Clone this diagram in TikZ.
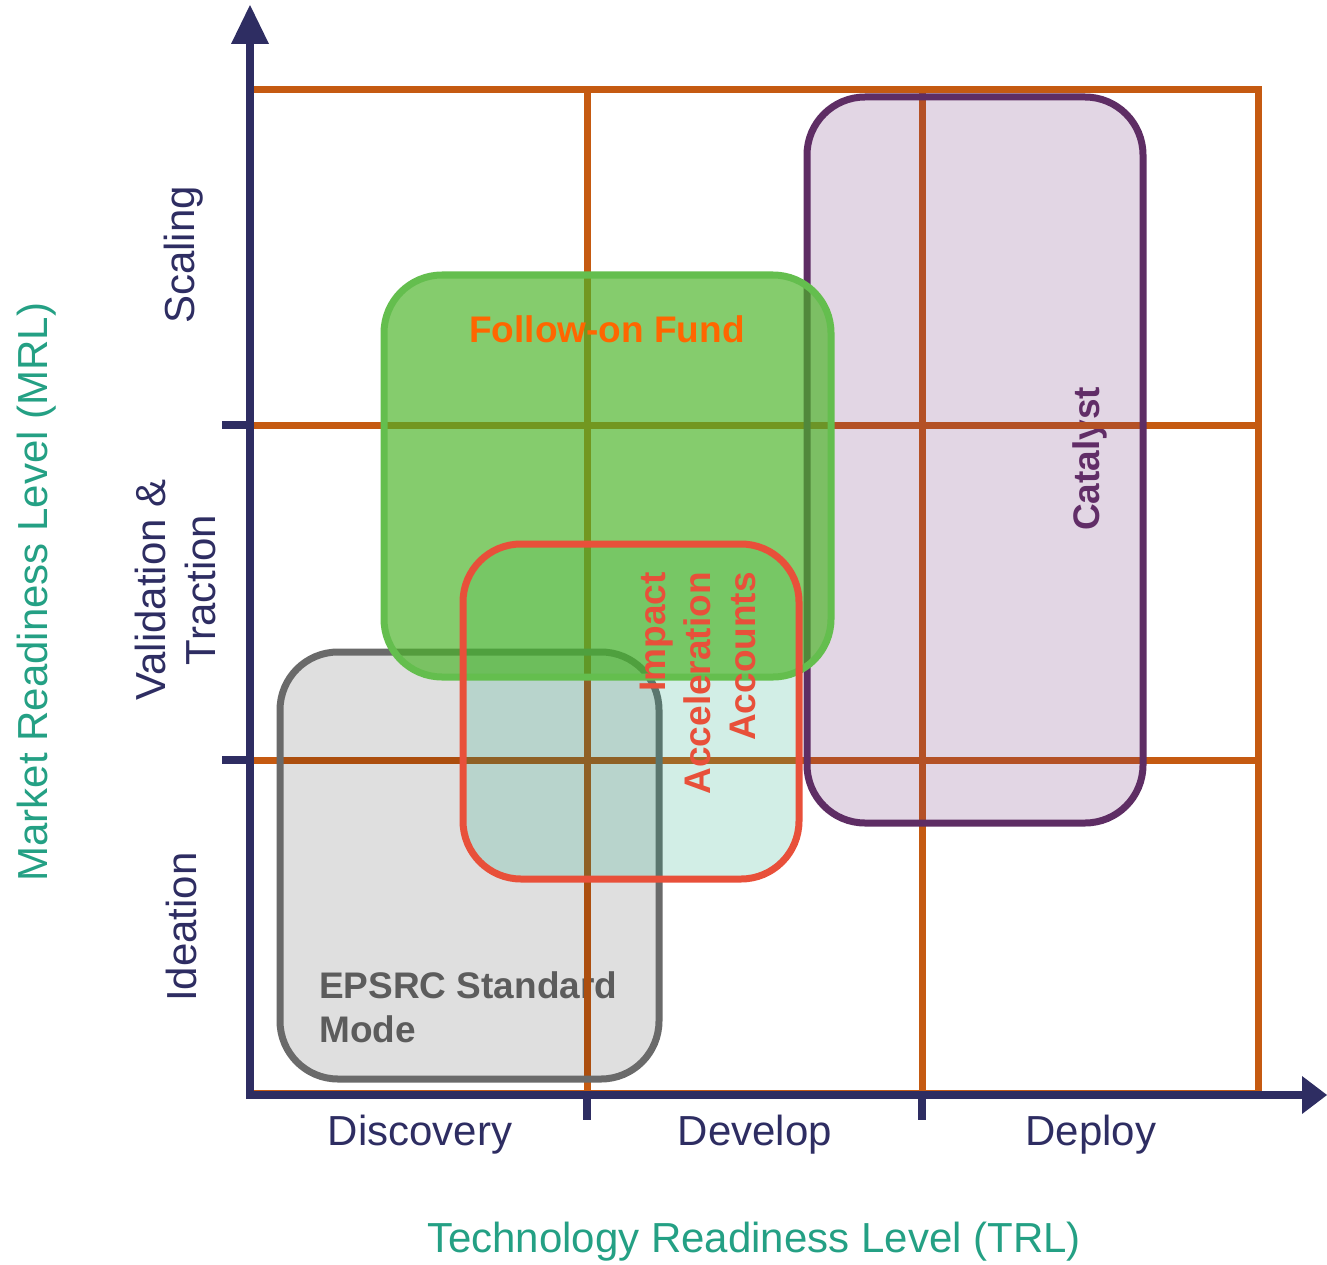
\documentclass[tikz,border=0pt]{standalone}
\usepackage{fontspec}
\setmainfont{Liberation Sans}
\definecolor{navy}{RGB}{46,45,98}
\definecolor{gridorange}{RGB}{197,90,17}
\definecolor{tealtxt}{RGB}{36,160,132}
\definecolor{grayline}{RGB}{106,106,106}
\definecolor{redline}{RGB}{232,80,58}
\definecolor{tealfill}{RGB}{30,170,130}
\definecolor{greenline}{RGB}{100,190,78}
\definecolor{greenfill}{RGB}{75,180,40}
\definecolor{fundorange}{RGB}{255,102,0}
\definecolor{purpleline}{RGB}{94,45,100}
\definecolor{purplefill}{RGB}{112,48,118}
\begin{document}
\begin{tikzpicture}[x=1pt,y=-1pt,
  gridline/.style={draw=gridorange,line width=7pt},
  axisline/.style={draw=navy,line width=8pt},
  axistip/.style={fill=navy,draw=none},
  boxborder/.style={line width=7pt,rounded corners=58pt},
  boxfill/.style={draw=none,rounded corners=58pt},
  axlabel/.style={text=navy,font=\fontsize{42}{50}\selectfont,inner sep=0pt},
  titlelabel/.style={text=tealtxt,font=\fontsize{42}{50}\selectfont,inner sep=0pt},
  boxlabel/.style={font=\bfseries\fontsize{37}{44}\selectfont,inner sep=0pt}]
\useasboundingbox (0,0) rectangle (1327,1265);

% named corner coordinates
\coordinate (o) at (250,1095);
\coordinate (ytop) at (250,44);
\coordinate (xend) at (1302,1095);

% texts lying under the grid
\node[boxlabel,text=grayline,anchor=base west] (epsrcA) at (319,998) {EPSRC Standard};
\node[boxlabel,text=grayline,anchor=base west] (epsrcB) at (319,1042) {Mode};
\node[boxlabel,text=purpleline,rotate=90,anchor=base] (catalyst) at (1099,459) {Catalyst};

% grid
\foreach \yy in {90,425,760} {\draw[gridline] (254,\yy) -- (1261.5,\yy);}
\draw[gridline] (254,1093.5) -- (1261.5,1093.5);
\foreach \xx in {587,922,1258} {\draw[gridline] (\xx,86.5) -- (\xx,1093);}

% EPSRC standard mode box
\fill[boxfill,black,fill opacity=0.125] (280,652) rectangle (659,1079);
\draw[boxborder,grayline] (280,652) rectangle (659,1079);

% Catalyst box
\fill[boxfill,purplefill,fill opacity=0.2] (807,97) rectangle (1143,823);
\draw[boxborder,purpleline] (807,97) rectangle (1143,823);

% Impact Acceleration Accounts fill
\fill[boxfill,tealfill,fill opacity=0.2] (463,544) rectangle (799,879);

% Follow-on Fund box
\fill[boxfill,greenfill,fill opacity=0.68] (384,275) rectangle (831,677);
\draw[boxborder,greenline] (384,275) rectangle (831,677);

% Impact Acceleration Accounts border
\draw[boxborder,redline] (463,544) rectangle (799,879);

% box texts on top
\node[boxlabel,text=fundorange,anchor=base] (fund) at (607,342) {Follow-on Fund};
\node[boxlabel,text=redline,rotate=90,anchor=base east] (iaaA) at (665,572) {Impact};
\node[boxlabel,text=redline,rotate=90,anchor=base east] (iaaB) at (710,572) {Acceleration};
\node[boxlabel,text=redline,rotate=90,anchor=base east] (iaaC) at (755,572) {Accounts};

% axes
\draw[axisline] (250,1099) -- (ytop);
\fill[axistip] (231,44) -- (250,5) -- (269,44) -- cycle;
\draw[axisline] (246,1095) -- (xend);
\fill[axistip] (1302,1076) -- (1327,1095) -- (1302,1114) -- cycle;
% ticks
\draw[axisline] (222,425) -- (250,425);
\draw[axisline] (222,760) -- (250,760);
\draw[axisline] (587,1095) -- (587,1120);
\draw[axisline] (922,1095) -- (922,1120);

% axis labels
\node[axlabel] (disc) at (420,1135) {Discovery};
\node[axlabel] (devel) at (755,1135) {Develop};
\node[axlabel] (depl) at (1091,1135) {Deploy};
\node[titlelabel] (trl) at (754,1242) {Technology Readiness Level (TRL)};
\node[titlelabel,rotate=90] (mrl) at (37,592) {Market Readiness Level (MRL)};
\node[axlabel,rotate=90] (scal) at (184,255) {Scaling};
\node[axlabel,rotate=90,align=center] (valid) at (175,590) {Validation \&\\Traction};
\node[axlabel,rotate=90] (idea) at (181,927) {Ideation};
\end{tikzpicture}
\end{document}
